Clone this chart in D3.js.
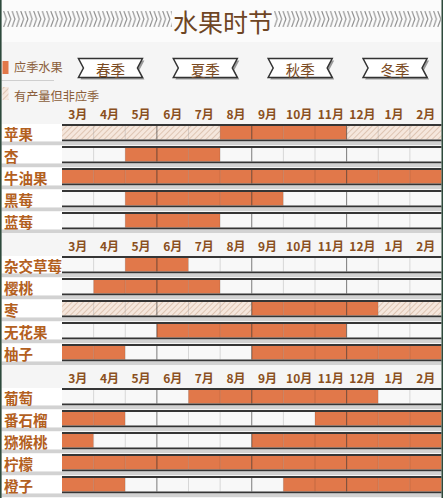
<!DOCTYPE html>
<html>
<head>
<meta charset="utf-8">
<script src="https://cdn.jsdelivr.net/npm/d3@7"></script>
<style>
  body { margin: 0; background: #f5f5f5; }
  svg { display: block; }
  text { font-family: "Noto Sans CJK SC", "Noto Sans", sans-serif; }
</style>
</head>
<body>
<svg id="chart"></svg>
<script>
const title = "水果时节";
const months = ["3月", "4月", "5月", "6月", "7月", "8月", "9月", "10月", "11月", "12月", "1月", "2月"];
const seasons = ["春季", "夏季", "秋季", "冬季"];
const legendLabels = ["应季水果", "有产量但非应季"];

const group1 = ["苹果", "杏", "牛油果", "黑莓", "蓝莓"];
const group2 = ["杂交草莓", "樱桃", "枣", "无花果", "柚子"];
const group3 = ["葡萄", "番石榴", "猕猴桃", "柠檬", "橙子"];

// 1 = 应季, 2 = 有产量但非应季, 0 = 无
const status1 = [
  [2, 2, 2, 2, 2, 1, 1, 1, 1, 2, 2, 2],
  [0, 0, 1, 1, 1, 0, 0, 0, 0, 0, 0, 0],
  [1, 1, 1, 1, 1, 1, 1, 1, 1, 1, 1, 1],
  [0, 0, 1, 1, 1, 1, 1, 0, 0, 0, 0, 0],
  [0, 0, 1, 1, 1, 0, 0, 0, 0, 0, 0, 0]
];
const status2 = [
  [0, 0, 1, 1, 0, 0, 0, 0, 0, 0, 0, 0],
  [0, 1, 1, 1, 1, 0, 0, 0, 0, 0, 0, 0],
  [2, 2, 2, 2, 2, 2, 1, 1, 1, 1, 2, 2],
  [0, 0, 0, 1, 1, 1, 1, 1, 1, 0, 0, 0],
  [1, 1, 0, 0, 0, 0, 1, 1, 1, 1, 1, 1]
];
const status3 = [
  [0, 0, 0, 0, 1, 1, 1, 1, 1, 1, 0, 0],
  [1, 1, 0, 0, 0, 0, 0, 0, 1, 1, 1, 1],
  [1, 0, 0, 0, 0, 0, 1, 1, 1, 1, 1, 1],
  [1, 1, 1, 1, 1, 1, 1, 1, 1, 1, 1, 1],
  [1, 1, 0, 0, 0, 0, 0, 1, 1, 1, 1, 1]
];

const groups = [
  { names: group1, status: status1 },
  { names: group2, status: status2 },
  { names: group3, status: status3 }
];

const width = 443, height = 498;
const orange = "#e1784a";
const brown = "#7a4a22";
const labelColor = "#b3601e";

const svg = d3.select("#chart").attr("width", width).attr("height", height);
const defs = svg.append("defs");

// hatch for "有产量但非应季"
const hatch = defs.append("pattern")
  .attr("id", "hatch")
  .attr("patternUnits", "userSpaceOnUse")
  .attr("width", 4).attr("height", 4)
  .attr("patternTransform", "rotate(45)");
hatch.append("rect").attr("width", 4).attr("height", 4).attr("fill", "#f5e7dd");
hatch.append("line").attr("x1", 0).attr("y1", 0).attr("x2", 0).attr("y2", 4)
  .attr("stroke", "#cfae97").attr("stroke-width", 1.2);

// zigzag band next to the title
const zig = defs.append("pattern")
  .attr("id", "zig")
  .attr("patternUnits", "userSpaceOnUse")
  .attr("x", 3).attr("y", 11)
  .attr("width", 4.3).attr("height", 16);
zig.append("path").attr("d", "M0.6,0 L3.4,8 L0.6,16")
  .attr("fill", "none").attr("stroke", "#8e8e8e").attr("stroke-width", 1.1);

const x = d3.scaleBand().domain(months).range([62, 441.5]);
const seasonX = d3.scaleBand().domain(seasons).range([62, 441.5]);

// title
svg.append("rect").attr("x", 1.5).attr("y", 0).attr("width", 440).attr("height", 42).attr("fill", "#fbfbfb");
svg.append("rect").attr("x", 3).attr("y", 11).attr("width", 169).attr("height", 16).attr("fill", "url(#zig)");
svg.append("rect").attr("x", 274).attr("y", 11).attr("width", 167).attr("height", 16).attr("fill", "url(#zig)");
svg.append("text")
  .attr("x", 223).attr("y", 31.5)
  .attr("text-anchor", "middle")
  .attr("font-size", 25)
  .attr("fill", "#6e4524")
  .text(title);

// legend
svg.append("rect").attr("x", 2.5).attr("y", 61).attr("width", 6).attr("height", 13).attr("fill", orange);
svg.append("rect").attr("x", 2.5).attr("y", 87).attr("width", 6).attr("height", 13).attr("fill", "url(#hatch)");
svg.append("line").attr("x1", 1.5).attr("x2", 54).attr("y1", 80.5).attr("y2", 80.5)
  .attr("stroke", "#cfcfcf").attr("stroke-width", 1.2);
svg.selectAll(".legend-label")
  .data(legendLabels)
  .join("text")
  .attr("class", "legend-label")
  .attr("x", 14)
  .attr("y", (d, i) => i === 0 ? 71.5 : 100.5)
  .attr("font-size", 12.2)
  .attr("fill", "#8b5e3a")
  .text(d => d);

// season banners
const bw = 64, bh = 19, notch = 5, by = 58.5;
const banner = (cx) => {
  const x0 = cx - bw / 2, x1 = cx + bw / 2, ym = by + bh / 2;
  return `M${x0},${by} L${x1},${by} L${x1 - notch},${ym} L${x1},${by + bh} L${x0},${by + bh} L${x0 + notch},${ym} Z`;
};
const seasonG = svg.selectAll(".season")
  .data(seasons)
  .join("g")
  .attr("class", "season");
seasonG.append("path")
  .attr("d", d => banner(seasonX(d) + seasonX.bandwidth() / 2 + 1))
  .attr("transform", "translate(2,2)")
  .attr("fill", "#9a9a9a");
seasonG.append("path")
  .attr("d", d => banner(seasonX(d) + seasonX.bandwidth() / 2 + 1))
  .attr("fill", "#ffffff")
  .attr("stroke", "#333")
  .attr("stroke-width", 1.5);
seasonG.append("text")
  .attr("x", d => seasonX(d) + seasonX.bandwidth() / 2 + 1)
  .attr("y", 75.5)
  .attr("text-anchor", "middle")
  .attr("font-size", 14.5)
  .attr("fill", brown)
  .text(d => d);

// fruit groups
const seasonStarts = ["6月", "9月", "12月"];
const fill = s => s === 1 ? orange : s === 2 ? "url(#hatch)" : "#f8f8f8";

groups.forEach((grp, g) => {
  const top = 124 + 132 * g;
  const y = d3.scaleBand().domain(grp.names).range([top, top + 110]);

  const axis = svg.append("g")
    .attr("transform", `translate(0,${top - 2})`)
    .call(d3.axisTop(x).tickSize(0).tickPadding(3));
  axis.select(".domain").remove();
  axis.selectAll("text")
    .attr("font-family", "\"Noto Sans CJK SC\", sans-serif")
    .attr("font-size", 12)
    .attr("font-weight", "bold")
    .attr("fill", "#8a4f20");

  const rows = svg.selectAll(`.row-${g}`)
    .data(grp.names.map((name, i) => ({ name, status: grp.status[i] })))
    .join("g")
    .attr("class", `row-${g}`)
    .attr("transform", d => `translate(0,${y(d.name)})`);

  rows.append("rect").attr("x", 1.5).attr("y", 0).attr("width", 60.5).attr("height", 17.5).attr("fill", "#ffffff");

  rows.selectAll(".cell")
    .data(d => d.status.map((s, j) => ({ month: months[j], s })))
    .join("rect")
    .attr("class", "cell")
    .attr("x", d => x(d.month))
    .attr("y", 2)
    .attr("width", x.bandwidth())
    .attr("height", 13.5)
    .attr("fill", d => fill(d.s));

  rows.selectAll(".sep")
    .data(months.slice(1))
    .join("line")
    .attr("class", "sep")
    .attr("x1", d => x(d)).attr("x2", d => x(d))
    .attr("y1", 2).attr("y2", 15.5)
    .attr("stroke", d => seasonStarts.includes(d) ? "rgba(0,0,0,0.5)" : "rgba(0,0,0,0.13)")
    .attr("stroke-width", 1);

  rows.append("rect").attr("x", 62).attr("y", 0).attr("width", 379.5).attr("height", 2).attr("fill", "#353535");
  rows.append("rect").attr("x", 62).attr("y", 15.5).attr("width", 379.5).attr("height", 2).attr("fill", "#353535");
  rows.append("rect").attr("x", 1.5).attr("y", 17.5).attr("width", 440).attr("height", 3.5).attr("fill", "#d2d2d2");

  rows.append("text")
    .attr("x", 4)
    .attr("y", 16)
    .attr("font-size", 14.5)
    .attr("font-weight", "bold")
    .attr("fill", labelColor)
    .text(d => d.name);
});

// frame
svg.append("rect").attr("x", 0).attr("y", 0).attr("width", 1.6).attr("height", height).attr("fill", "#2e4a3c");
svg.append("rect").attr("x", 441.5).attr("y", 0).attr("width", 1.5).attr("height", height).attr("fill", "#2e4a3c");
</script>
</body>
</html>
